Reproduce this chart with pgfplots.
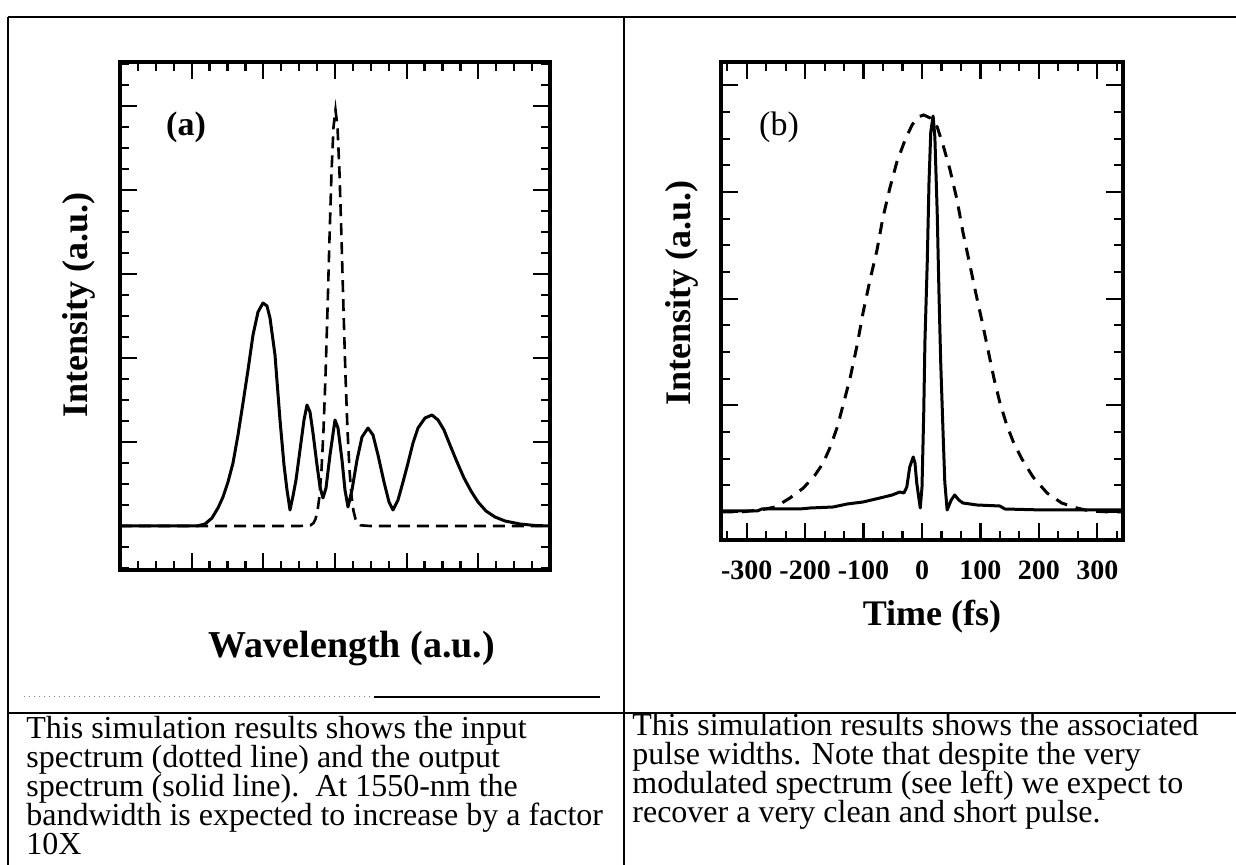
\documentclass[border=0pt]{standalone}
\usepackage{fontspec}
\setmainfont{Liberation Serif}
\usepackage{pgfplots}
\pgfplotsset{compat=1.18}
\begin{document}
\begin{tikzpicture}
\useasboundingbox (0,0) rectangle (618pt,432.5pt);
% table frame
\draw[line width=0.8pt] (4pt,424pt) -- (618pt,424pt);
\draw[line width=0.8pt] (4pt,424pt) -- (4pt,0pt);
\draw[line width=0.8pt] (312pt,424pt) -- (312pt,0pt);
\draw[line width=0.8pt] (4pt,76pt) -- (618pt,76pt);
\draw[gray, line width=0.5pt, dotted] (12pt,84pt) -- (187pt,84pt);
\draw[line width=0.6pt] (187pt,84pt) -- (300pt,84pt);

% ---------- panel (a)
\begin{axis}[at={(60pt,147.5pt)}, anchor=south west, scale only axis,
  width=215pt, height=254pt,
  xmin=120, xmax=550, ymin=-44, ymax=464,
  xtick={120,191.667,263.333,335,406.667,478.333,550},
  ytick={0,84,168,252,336,420},
  minor xtick={120,137.9167,...,551},
  minor ytick={-42,-21,...,463},
  xticklabels={}, yticklabels={},
  axis line style={line width=1.6pt},
  major tick style={line width=1.1pt, black},
  minor tick style={line width=1.1pt, black},
  major tick length=8.5pt, minor tick length=4.5pt]
\addplot[black, line width=1.3pt, dash pattern=on 6pt off 3.5pt] coordinates {
(120,0) (300,0) (310.5,0.7) (313.5,3) (315.5,7) (317.5,15) (319.5,30) (321.5,56)
(323.5,96) (325.5,150) (327.5,216) (329.5,288) (331.5,353) (333.5,399) (335.5,416)
(337.5,399) (339.5,353) (341.5,288) (343.5,216) (345.5,150) (347.5,96) (349.5,56)
(351.5,30) (353.5,15) (355.5,7) (357.5,3) (360.5,0.7) (370,0) (550,0)};
\addplot[black, line width=1.5pt, line join=round] coordinates {
(120,0) (150,0) (180,0) (197,0) (205,2) (212,8) (218,18) (223,29) (228,44) (233,63)
(238,91) (243,123) (248,156) (253,191) (258,214) (263,223) (267,220) (270,208)
(275,171) (280,106) (284,61) (287,36) (290,16) (293,30) (296,46) (300,76) (304,106)
(307,121) (310,114) (313,93) (317,61) (320,39) (323,28) (326,38) (330,71) (335,106)
(338,98) (342,66) (345,36) (348,19) (352,36) (357,66) (362,89) (368,98) (373,91)
(378,71) (384,44) (389,24) (393,16) (398,26) (403,44) (408,63) (413,83) (418,98)
(425,108) (432,111) (438,106) (444,96) (450,81) (457,64) (464,48) (471,35) (478,24)
(486,15) (495,9) (505,5) (520,2) (535,0.5) (550,0)};
\end{axis}

% ---------- panel (b)
\begin{axis}[at={(360.5pt,162.5pt)}, anchor=south west, scale only axis,
  width=201pt, height=239pt,
  xmin=-344, xmax=344, ymin=-28, ymax=450,
  xtick={-300,-200,-100,0,100,200,300},
  xticklabels={-300,-200,-100,0,100,200,300},
  ytick={0,106.67,213.33,320,426.67}, yticklabels={},
  minor xtick={-333.333,-300,...,340},
  minor ytick={-26.667,0,...,448},
  xticklabel style={font=\fontsize{14}{16}\selectfont\bfseries, anchor=center, yshift=-15pt},
  axis line style={line width=1.6pt},
  major tick style={line width=1.1pt, black},
  minor tick style={line width=1.1pt, black},
  major tick length=8.5pt, minor tick length=4.5pt]
\addplot[black, line width=1.5pt, dash pattern=on 6pt off 4.5pt] coordinates {
(-344,0) (-311,0) (-277,2) (-251,5) (-226,14) (-203,24) (-183,37) (-169,49) (-157,65)
(-145,85) (-135,107) (-123,134) (-111,167) (-101,199) (-89,232) (-77,262) (-67,294)
(-55,324) (-43,350) (-29,372) (-17,387) (-7,395) (3,397) (14,394) (26,385) (36,367)
(48,342) (60,312) (70,280) (82,247) (92,219) (103,190) (113,162) (123,134) (133,110)
(145,87) (157,69) (171,53) (190,35) (214,19) (239,9) (265,4) (287,1) (321,0) (344,0)};
\addplot[black, line width=1.5pt, line join=round] coordinates {
(-344,1) (-282,1) (-274,3) (-243,3) (-209,3) (-191,4) (-152,5) (-128,8) (-101,10)
(-72,14) (-51,17) (-38,20) (-31,19) (-26,25) (-21,45) (-15,55) (-12,49) (-9,29)
(-3,4) (0,25) (3,100) (5,170) (9,250) (12,330) (15,380) (19,396) (22,375) (26,300)
(29,220) (32,150) (36,80) (39,30) (43,2) (50,12) (56,17) (63,12) (70,9) (94,7)
(133,6) (142,3) (207,2) (344,2)};
\end{axis}

% ---------- labels
\node[font=\fontsize{18}{20}\selectfont\bfseries, rotate=90] at (39.5pt,280pt) {Intensity (a.u.)};
\node[font=\fontsize{18}{20}\selectfont\bfseries, rotate=90] at (341pt,286pt) {Intensity (a.u.)};
\node[font=\fontsize{19}{21}\selectfont\bfseries] at (176pt,108pt) {Wavelength (a.u.)};
\node[font=\fontsize{18}{20}\selectfont\bfseries] at (466pt,124pt) {Time (fs)};
\node[font=\fontsize{17}{19}\selectfont\bfseries] at (93pt,369pt) {(a)};
\node[font=\fontsize{17}{19}\selectfont] at (389.5pt,369pt) {(b)};

% ---------- captions
\begin{scope}[every node/.style={anchor=base west, inner sep=0pt, font=\fontsize{16}{15}\selectfont}]
\node at (13pt,63pt) {This simulation results shows the input};
\node at (13pt,48.5pt) {spectrum (dotted line) and the output};
\node at (13pt,34pt) {spectrum (solid line).\ \ At 1550-nm the};
\node at (13pt,19.5pt) {bandwidth is expected to increase by a factor};
\node at (13pt,5pt) {10X};
\node at (316pt,64.5pt) {This simulation results shows the associated};
\node at (316pt,50pt) {pulse widths. Note that despite the very};
\node at (316pt,35.5pt) {modulated spectrum (see left) we expect to};
\node at (316pt,21pt) {recover a very clean and short pulse.};
\end{scope}
\end{tikzpicture}
\end{document}
